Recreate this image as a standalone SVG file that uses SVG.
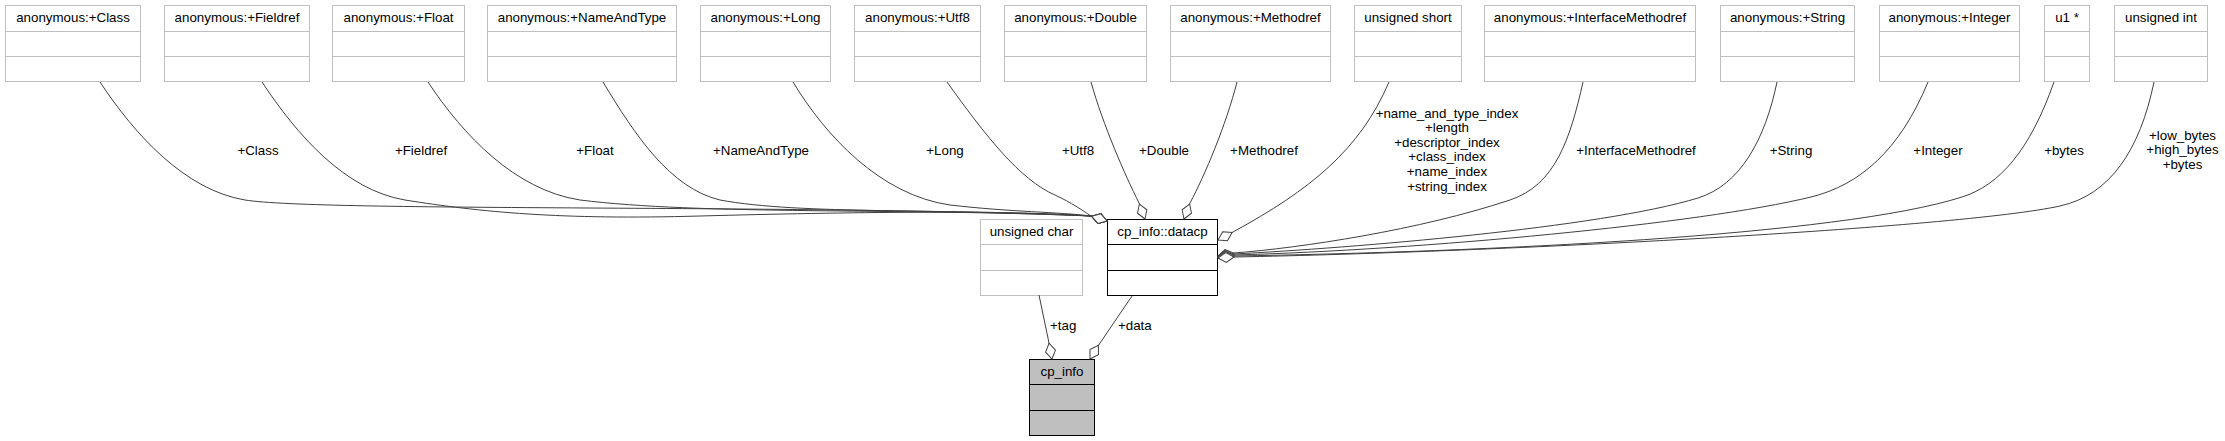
<svg xmlns="http://www.w3.org/2000/svg" width="2225" height="441" viewBox="0 0 2225 441">
<style>
.n rect{fill:#fff;stroke:#bfbfbf;stroke-width:1}
.n line{stroke:#bfbfbf;stroke-width:1}
.k rect{stroke:#000}
.k line{stroke:#000}
.g rect{fill:#bfbfbf}
text{font-family:"Liberation Sans",Arial,Helvetica,sans-serif;font-size:13.33px;fill:#000}
.c{text-anchor:middle}
.e path{fill:none;stroke:#404040;stroke-width:1;marker-end:url(#od)}
</style>
<defs>
<marker id="od" markerUnits="userSpaceOnUse" viewBox="-18 -7 20 14" markerWidth="20" markerHeight="14" refX="0" refY="0" orient="auto" overflow="visible">
<path d="M0,0 L-8,-5 L-16,0 L-8,5 Z" fill="#fff" stroke="#404040" stroke-width="1"/>
</marker>
</defs>
<rect x="0" y="0" width="2225" height="441" fill="#fff"/>

<g id="nodes">
<g id="n_class" class="n"><rect x="5.5" y="5.5" width="135" height="76"/><line x1="5.5" y1="31.5" x2="140.5" y2="31.5"/><line x1="5.5" y1="56.5" x2="140.5" y2="56.5"/><text class="c" x="73" y="22.3">anonymous:+Class</text></g>
<g id="n_fieldref" class="n"><rect x="164.5" y="5.5" width="145" height="76"/><line x1="164.5" y1="31.5" x2="309.5" y2="31.5"/><line x1="164.5" y1="56.5" x2="309.5" y2="56.5"/><text class="c" x="237" y="22.3">anonymous:+Fieldref</text></g>
<g id="n_float" class="n"><rect x="332.5" y="5.5" width="132" height="76"/><line x1="332.5" y1="31.5" x2="464.5" y2="31.5"/><line x1="332.5" y1="56.5" x2="464.5" y2="56.5"/><text class="c" x="398.5" y="22.3">anonymous:+Float</text></g>
<g id="n_nameandtype" class="n"><rect x="487.5" y="5.5" width="189" height="76"/><line x1="487.5" y1="31.5" x2="676.5" y2="31.5"/><line x1="487.5" y1="56.5" x2="676.5" y2="56.5"/><text class="c" x="582" y="22.3">anonymous:+NameAndType</text></g>
<g id="n_long" class="n"><rect x="700.5" y="5.5" width="130" height="76"/><line x1="700.5" y1="31.5" x2="830.5" y2="31.5"/><line x1="700.5" y1="56.5" x2="830.5" y2="56.5"/><text class="c" x="765.5" y="22.3">anonymous:+Long</text></g>
<g id="n_utf8" class="n"><rect x="854.5" y="5.5" width="126" height="76"/><line x1="854.5" y1="31.5" x2="980.5" y2="31.5"/><line x1="854.5" y1="56.5" x2="980.5" y2="56.5"/><text class="c" x="917.5" y="22.3">anonymous:+Utf8</text></g>
<g id="n_double" class="n"><rect x="1004.5" y="5.5" width="142" height="76"/><line x1="1004.5" y1="31.5" x2="1146.5" y2="31.5"/><line x1="1004.5" y1="56.5" x2="1146.5" y2="56.5"/><text class="c" x="1075.5" y="22.3">anonymous:+Double</text></g>
<g id="n_methodref" class="n"><rect x="1170.5" y="5.5" width="160" height="76"/><line x1="1170.5" y1="31.5" x2="1330.5" y2="31.5"/><line x1="1170.5" y1="56.5" x2="1330.5" y2="56.5"/><text class="c" x="1250.5" y="22.3">anonymous:+Methodref</text></g>
<g id="n_ushort" class="n"><rect x="1354.5" y="5.5" width="107" height="76"/><line x1="1354.5" y1="31.5" x2="1461.5" y2="31.5"/><line x1="1354.5" y1="56.5" x2="1461.5" y2="56.5"/><text class="c" x="1408" y="22.3">unsigned short</text></g>
<g id="n_ifmethodref" class="n"><rect x="1484.5" y="5.5" width="211" height="76"/><line x1="1484.5" y1="31.5" x2="1695.5" y2="31.5"/><line x1="1484.5" y1="56.5" x2="1695.5" y2="56.5"/><text class="c" x="1590" y="22.3">anonymous:+InterfaceMethodref</text></g>
<g id="n_string" class="n"><rect x="1720.5" y="5.5" width="134" height="76"/><line x1="1720.5" y1="31.5" x2="1854.5" y2="31.5"/><line x1="1720.5" y1="56.5" x2="1854.5" y2="56.5"/><text class="c" x="1787.5" y="22.3">anonymous:+String</text></g>
<g id="n_integer" class="n"><rect x="1879.5" y="5.5" width="140" height="76"/><line x1="1879.5" y1="31.5" x2="2019.5" y2="31.5"/><line x1="1879.5" y1="56.5" x2="2019.5" y2="56.5"/><text class="c" x="1949.5" y="22.3">anonymous:+Integer</text></g>
<g id="n_u1ptr" class="n"><rect x="2044.5" y="5.5" width="45" height="76"/><line x1="2044.5" y1="31.5" x2="2089.5" y2="31.5"/><line x1="2044.5" y1="56.5" x2="2089.5" y2="56.5"/><text class="c" x="2067" y="22.3">u1 *</text></g>
<g id="n_uint" class="n"><rect x="2114.5" y="5.5" width="93" height="76"/><line x1="2114.5" y1="31.5" x2="2207.5" y2="31.5"/><line x1="2114.5" y1="56.5" x2="2207.5" y2="56.5"/><text class="c" x="2161" y="22.3">unsigned int</text></g>
<g id="n_uchar" class="n"><rect x="980.5" y="219.5" width="102" height="76"/><line x1="980.5" y1="244.5" x2="1082.5" y2="244.5"/><line x1="980.5" y1="270.5" x2="1082.5" y2="270.5"/><text class="c" x="1031.5" y="235.5">unsigned char</text></g>
<g id="n_datacp" class="n k"><rect x="1107.5" y="219.5" width="110" height="76"/><line x1="1107.5" y1="244.5" x2="1217.5" y2="244.5"/><line x1="1107.5" y1="270.5" x2="1217.5" y2="270.5"/><text class="c" x="1162.5" y="235.5">cp_info::datacp</text></g>
<g id="n_cpinfo" class="n k g"><rect x="1029.5" y="359.5" width="65" height="76"/><line x1="1029.5" y1="384.5" x2="1094.5" y2="384.5"/><line x1="1029.5" y1="410.5" x2="1094.5" y2="410.5"/><text class="c" x="1062" y="375.5">cp_info</text></g>
</g>

<g id="connectors" class="e">
<path d="M100,82 C135,135 185,190 245,200 C320,212 800,204 1091,216 L1107,221"/>
<path d="M262,82 C297,135 345,190 405,200 C480,212 560,220 700,216 C850,212 1000,210 1091,216 L1107,221"/>
<path d="M428,82 C463,135 515,190 580,200 C700,215 900,208 1091,216 L1107,221"/>
<path d="M603,82 C635,135 670,188 720,200 C800,215 950,208 1091,216 L1107,221"/>
<path d="M793,82 C825,135 880,195 950,205 C1010,212 1060,212 1091,216 L1107,221"/>
<path d="M947,82 C985,135 1020,180 1055,195 C1072,203 1082,210 1091,216 L1107,221"/>
<path d="M1091,82 C1103,125 1125,175 1139,203 L1145,219"/>
<path d="M1237,82 C1226,125 1205,175 1190,203 L1184,219"/>
<path d="M1389,82 C1360,150 1310,190 1233,232 L1218,240"/>
<path d="M1583,82 C1570,140 1555,185 1510,200 C1420,230 1300,248 1234,253 L1218,256"/>
<path d="M1777,82 C1765,140 1740,185 1698,198 C1600,228 1350,248 1234,254 L1218,256"/>
<path d="M1928,82 C1900,150 1860,185 1811,197 C1700,224 1420,250 1234,255 L1218,257"/>
<path d="M2054,82 C2030,150 2000,185 1962,197 C1840,236 1480,252 1234,256 L1218,257"/>
<path d="M2154,82 C2140,150 2110,195 2060,206 C1960,228 1500,252 1234,257 L1218,258"/>
<path d="M1039,295 L1049,343 L1052,359"/>
<path d="M1132,296 L1098,346 L1090,359"/>
<g id="edge-labels">
<text class="c" x="258" y="154.5">+Class</text>
<text class="c" x="421" y="154.5">+Fieldref</text>
<text class="c" x="595" y="154.5">+Float</text>
<text class="c" x="761" y="154.5">+NameAndType</text>
<text class="c" x="945" y="154.5">+Long</text>
<text class="c" x="1078" y="154.5">+Utf8</text>
<text class="c" x="1164" y="154.5">+Double</text>
<text class="c" x="1264" y="154.5">+Methodref</text>
<text class="c" x="1447" y="117.5"><tspan x="1447">+name_and_type_index</tspan><tspan x="1447" dy="14.6">+length</tspan><tspan x="1447" dy="14.6">+descriptor_index</tspan><tspan x="1447" dy="14.6">+class_index</tspan><tspan x="1447" dy="14.6">+name_index</tspan><tspan x="1447" dy="14.6">+string_index</tspan></text>
<text class="c" x="1636" y="154.5">+InterfaceMethodref</text>
<text class="c" x="1791" y="154.5">+String</text>
<text class="c" x="1938" y="154.5">+Integer</text>
<text class="c" x="2064" y="154.5">+bytes</text>
<text class="c" x="2182.5" y="139.5"><tspan x="2182.5">+low_bytes</tspan><tspan x="2182.5" dy="14.6">+high_bytes</tspan><tspan x="2182.5" dy="14.6">+bytes</tspan></text>
<text x="1050" y="330">+tag</text>
<text x="1118" y="330">+data</text>
</g>
</g>
</svg>
